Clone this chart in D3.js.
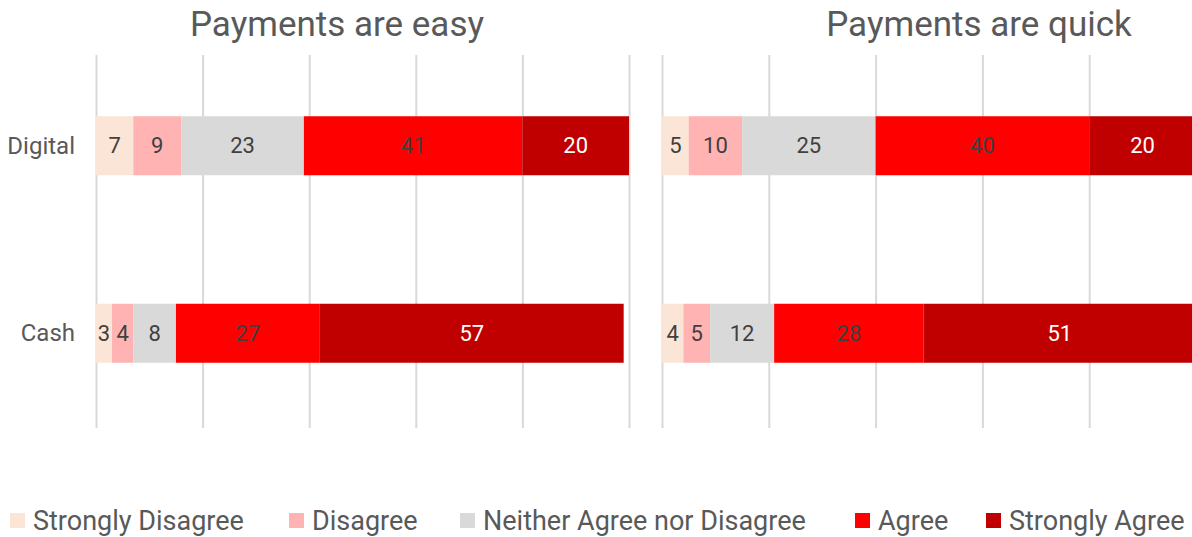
<!DOCTYPE html>
<html>
<head>
<meta charset="utf-8">
<script src="https://cdn.jsdelivr.net/npm/d3@7"></script>
<style>
  html, body { margin: 0; padding: 0; background: #fff; }
  svg { display: block; }
  text { font-family: Roboto, "Noto Sans", sans-serif; }
</style>
</head>
<body>
<svg id="chart" width="1192" height="537"></svg>
<script>
// Survey responses (percent), one stacked bar per payment method
const categories = ["Digital", "Cash"];
const responses = ["Strongly Disagree", "Disagree", "Neither Agree nor Disagree", "Agree", "Strongly Agree"];
const colors = ["#FBE5D6", "#FFB3B3", "#D9D9D9", "#FF0000", "#C00000"];
const labelColors = ["#404040", "#404040", "#404040", "#404040", "#FFFFFF"];

const easyDigital = [7, 9, 23, 41, 20];
const easyCash = [3, 4, 8, 27, 57];
const quickDigital = [5, 10, 25, 40, 20];
const quickCash = [4, 5, 12, 28, 51];

const panelTitles = ["Payments are easy", "Payments are quick"];
const tickValues = [0, 20, 40, 60, 80, 100];

const panels = [
  { title: panelTitles[0], rows: [easyDigital, easyCash], range: [96, 629], titleX: 337, showY: true },
  { title: panelTitles[1], rows: [quickDigital, quickCash], range: [662, 1196], titleX: 979, showY: false }
];

const svg = d3.select("#chart");
const gridTop = 55, gridBottom = 428;
const barH = 59;

const y = d3.scalePoint().domain(categories).range([52, 427]).padding(0.5);

panels.forEach((p) => {
  const x = d3.scaleLinear().domain([0, 100]).range(p.range);
  const g = svg.append("g");

  // vertical gridlines
  const grid = g.append("g")
    .attr("transform", `translate(0,${gridBottom})`)
    .call(d3.axisBottom(x).tickValues(tickValues).tickSize(-(gridBottom - gridTop)).tickFormat(""));
  grid.select(".domain").remove();
  grid.selectAll(".tick line").attr("stroke", "#D9D9D9").attr("stroke-width", 2);

  // title
  g.append("text")
    .attr("x", p.titleX)
    .attr("y", 36)
    .attr("text-anchor", "middle")
    .attr("font-size", 35)
    .attr("fill", "#595959")
    .text(p.title);

  // stacked bars
  categories.forEach((cat, ci) => {
    const vals = p.rows[ci];
    const starts = d3.cumsum([0].concat(vals.slice(0, -1)));
    const row = g.append("g");
    const segs = row.selectAll("g.seg")
      .data(vals.map((v, i) => ({ v, i, s: starts[i] })))
      .join("g").attr("class", "seg");
    segs.append("rect")
      .attr("x", d => x(d.s))
      .attr("y", y(cat) - barH / 2)
      .attr("width", d => x(d.s + d.v) - x(d.s))
      .attr("height", barH)
      .attr("fill", d => colors[d.i]);
    segs.append("text")
      .attr("x", d => (x(d.s) + x(d.s + d.v)) / 2)
      .attr("y", y(cat))
      .attr("dy", "0.35em")
      .attr("text-anchor", "middle")
      .attr("font-size", 22)
      .attr("fill", d => labelColors[d.i])
      .text(d => d.v);
  });

  if (p.showY) {
    const ya = g.append("g")
      .attr("transform", `translate(${p.range[0] - 18},0)`)
      .call(d3.axisLeft(y).tickSize(0));
    ya.select(".domain").remove();
    ya.selectAll("text")
      .attr("font-size", 24)
      .attr("fill", "#595959")
      .attr("font-family", "Roboto, sans-serif");
  }
});

// legend
const legendX = [10, 289, 460, 855, 986];
const legend = svg.append("g").attr("transform", "translate(0,520.5)");
responses.forEach((r, i) => {
  const item = legend.append("g").attr("transform", `translate(${legendX[i]},0)`);
  item.append("rect").attr("x", 0).attr("y", -7.5).attr("width", 15).attr("height", 15).attr("fill", colors[i]);
  item.append("text")
    .attr("x", 23)
    .attr("y", 0)
    .attr("dy", "0.35em")
    .attr("font-size", 27)
    .attr("fill", "#595959")
    .text(r);
});
</script>
</body>
</html>
